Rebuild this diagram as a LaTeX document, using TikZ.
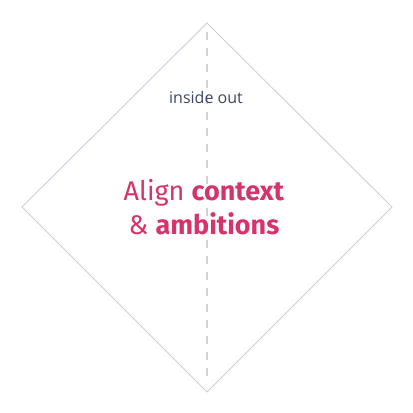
\documentclass[tikz,border=0pt]{standalone}
\usepackage{fontspec}
\setmainfont{Fira Sans}
\newfontfamily\smallfont{Open Sans}
\definecolor{pinkred}{HTML}{D6336C}
\definecolor{navy}{HTML}{3F4566}
\definecolor{edgegray}{HTML}{CCCEDD}
\definecolor{dashgray}{HTML}{D2D2D6}
\begin{document}
\begin{tikzpicture}[x=1pt,y=-1pt,
  edge/.style={draw=edgegray,line width=0.9pt,line join=miter},
  axis/.style={draw=dashgray,line width=1.2pt,dash pattern=on 8pt off 8pt},
  smalltext/.style={text=navy,font=\smallfont\fontsize{16}{18}\selectfont,inner sep=0pt},
  bigtext/.style={text=pinkred,font=\fontsize{27}{34}\selectfont,align=center,inner sep=0pt}]
\useasboundingbox (0,0) rectangle (413,413);
\coordinate (top) at (207,23);
\coordinate (left) at (22,207);
\coordinate (bottom) at (207,392);
\coordinate (right) at (392,207);
\coordinate (dtop) at (207,32);
\coordinate (dbot) at (207,384);
\draw[edge] (top) -- (right) -- (bottom) -- (left) -- cycle;
\draw[axis] (dtop) -- (dbot);
\node[smalltext] (sub) at (206,97) {inside out};
\node[bigtext] (main) at (204,207) {Align \textbf{context}\\\& \textbf{ambitions}};
\end{tikzpicture}
\end{document}
